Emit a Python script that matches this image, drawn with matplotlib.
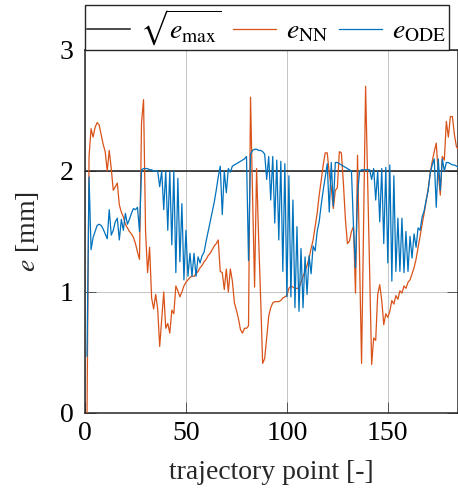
import matplotlib
matplotlib.use("Agg")
import matplotlib.pyplot as plt
import numpy as np

# ---- data ----
traj_point = list(range(1, 186))

e_max_sqrt = 2.0

e_nn = [
    0.00, 2.12, 2.35, 2.28, 2.36, 2.40, 2.38, 2.30, 2.22, 2.16,
    2.00, 2.17, 2.02, 1.84, 1.87, 1.90, 1.72, 1.66, 1.62, 1.56,
    1.53, 1.50, 1.48, 1.45, 1.40, 1.33, 1.27, 2.40, 2.59, 1.50,
    1.16, 1.37, 0.95, 0.86, 0.98, 0.86, 0.55, 0.78, 1.00, 0.70,
    0.74, 0.66, 0.85, 0.82, 1.05, 1.01, 0.96, 1.00, 1.05, 1.08,
    1.10, 1.12, 1.13, 1.13, 1.15, 1.17, 1.20, 1.22, 1.25, 1.27,
    1.30, 1.32, 1.35, 1.38, 1.40, 1.43, 1.17, 1.16, 1.02, 1.19,
    1.00, 1.19, 1.09, 0.91, 0.85, 0.78, 0.69, 0.66, 0.70, 0.70,
    0.72, 2.61, 1.80, 1.04, 2.02, 1.45, 0.95, 0.41, 0.45, 0.62,
    0.80, 0.87, 0.91, 0.92, 0.92, 0.92, 0.93, 0.95, 0.96, 0.97,
    1.03, 1.05, 1.04, 1.03, 1.03, 1.03, 1.08, 1.13, 1.17, 1.22,
    1.28, 1.36, 1.43, 1.54, 1.65, 1.80, 1.92, 2.05, 2.15, 2.15,
    1.98, 1.86, 1.69, 1.84, 1.86, 2.16, 2.15, 1.90, 1.60, 1.40,
    1.42, 1.50, 1.54, 0.99, 2.13, 1.27, 0.41, 1.55, 2.70, 1.93,
    1.17, 0.40, 0.62, 0.60, 0.98, 1.06, 0.93, 0.73, 0.82, 0.79,
    0.84, 0.93, 0.90, 0.97, 0.94, 1.01, 0.99, 1.05, 1.03, 1.08,
    1.10, 1.15, 1.20, 1.27, 1.37, 1.46, 1.56, 1.65, 1.75, 1.85,
    1.98, 2.08, 2.16, 2.23, 1.98, 1.80, 2.12, 2.09, 2.41, 2.28,
    2.45, 2.45, 2.30, 2.20, 2.18,
]

e_ode = [
    0.47, 1.95, 1.35, 1.45, 1.50, 1.55, 1.56, 1.55, 1.52, 1.48,
    1.44, 1.68, 1.47, 1.51, 1.58, 1.61, 1.43, 1.60, 1.51, 1.65,
    1.56, 1.60, 1.65, 1.69, 1.68, 1.70, 1.50, 2.01, 2.02, 2.02,
    2.02, 2.01, 2.01, 2.00, 2.00, 2.00, 1.87, 2.00, 1.68, 2.00,
    1.51, 2.00, 1.39, 2.00, 1.16, 1.94, 1.25, 1.73, 1.10, 1.51,
    1.13, 1.32, 1.13, 1.32, 1.13, 1.29, 1.24, 1.30, 1.33, 1.42,
    1.50, 1.58, 1.66, 1.74, 1.84, 1.95, 2.04, 1.64, 2.00, 1.82,
    2.02, 1.99, 2.04, 2.05, 2.06, 2.07, 2.08, 2.09, 2.10, 2.12,
    1.26, 2.14, 2.17, 2.18, 2.18, 2.17, 2.17, 2.16, 2.14, 1.93,
    2.12, 1.76, 2.12, 1.57, 2.09, 1.43, 2.08, 1.17, 2.06, 0.96,
    1.96, 0.96, 1.76, 0.87, 1.54, 0.84, 1.36, 0.87, 1.29, 0.98,
    1.30, 1.15, 1.38, 1.34, 1.50, 1.58, 1.72, 1.84, 1.95, 2.06,
    1.66, 2.07, 1.71, 2.07, 2.07, 2.06, 2.05, 2.04, 2.03, 2.02,
    2.01, 2.00, 1.54, 1.20, 1.80, 2.00, 2.01, 2.01, 2.01, 2.01,
    2.01, 1.93, 2.02, 1.76, 2.00, 1.58, 2.02, 1.40, 2.03, 1.24,
    2.05, 1.09, 1.96, 1.17, 1.61, 1.17, 1.61, 1.16, 1.50, 1.17,
    1.46, 1.28, 1.48, 1.37, 1.53, 1.51, 1.62, 1.67, 1.76, 1.84,
    1.98, 2.05, 2.10, 1.70, 2.10, 1.84, 2.10, 2.00, 2.07, 2.07,
    2.06, 2.05, 2.05, 2.04, 2.03,
]

x_ticks = [0, 50, 100, 150]
y_ticks = [0, 1, 2, 3]

# ---- style ----
plt.rcParams['font.family'] = ['Liberation Serif', 'DejaVu Serif']
plt.rcParams['mathtext.fontset'] = 'stix'

FS = 20

fig = plt.figure(figsize=(4.58, 4.93), dpi=100)
ax = fig.add_axes([0.1856, 0.1623, 0.8154, 0.7363])

c_nn = '#D95319'
c_ode = '#0072BD'

h_max = ax.axhline(e_max_sqrt, color='#1a1a1a', lw=1.1, zorder=2)
h_nn, = ax.plot(traj_point, e_nn, color=c_nn, lw=0.9, zorder=3)
h_ode, = ax.plot(traj_point, e_ode, color=c_ode, lw=0.9, zorder=4)

ax.set_xlim(0, 185)
ax.set_ylim(0, 3)
ax.set_xticks(x_ticks)
ax.set_yticks(y_ticks)
ax.grid(True, color='#c4c4c4', lw=0.7)
ax.set_axisbelow(True)

ax.tick_params(direction='in', length=8, width=0.7, color='#555555',
               labelsize=FS, top=False, right=True)
ax.tick_params(axis='y', pad=8)
ax.tick_params(axis='x', pad=6)
for s in ax.spines.values():
    s.set_color('#262626')
    s.set_linewidth(1.1)

ax.set_xlabel('trajectory point [-]', fontsize=FS, color='#262626', labelpad=10)
ax.set_ylabel('$e$ [mm]', fontsize=FS, color='#262626', labelpad=14)

leg = ax.legend([h_max, h_nn, h_ode],
                [r'$\sqrt{e_{\mathrm{max}}}$', r'$e_{\mathrm{NN}}$', r'$e_{\mathrm{ODE}}$'],
                loc='lower left', bbox_to_anchor=(0.0, 1.0), ncol=3,
                fontsize=FS, frameon=True, fancybox=False, edgecolor='#262626',
                framealpha=1, borderaxespad=0, handlelength=1.55, handletextpad=0.36,
                columnspacing=0.4, borderpad=0.08)
leg.get_frame().set_linewidth(1.0)

fig.savefig('out.png', dpi=100)
